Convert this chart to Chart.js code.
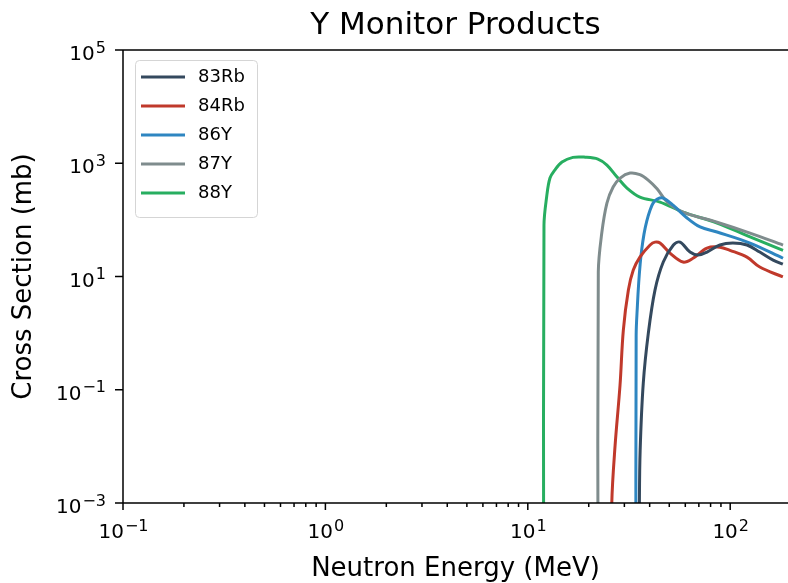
<!DOCTYPE html>
<html>
<head>
<meta charset="utf-8">
<script src="https://cdn.jsdelivr.net/npm/chart.js@4.4.0/dist/chart.umd.min.js"></script>
<style>
  body { margin: 0; background: #fff; }
</style>
</head>
<body>
<canvas id="myChart" width="788" height="583"></canvas>
<script>
// series names and colours
const seriesNames = ['83Rb', '84Rb', '86Y', '87Y', '88Y'];
const seriesColors = ['#34495e', '#c0392b', '#2e86c1', '#7f8c8d', '#27ae60'];

// neutron energy (MeV) and cross section (mb)
const energy83Rb = [35.5, 35.6, 35.9, 37.2, 39.4, 42.5, 46.7, 52.4, 56.5, 63.3, 69.3, 76.8, 89.0, 103, 121, 140, 163, 182];
const sigma83Rb  = [1e-5, 0.001, 0.0086, 0.131, 1.0, 5.75, 18, 36, 40.5, 27, 23.9, 27, 36, 38.9, 36, 27, 19.5, 16.5];

const energy84Rb = [25.8, 26.0, 27.0, 28.55, 29.65, 31.4, 33.2, 35.8, 40.2, 42.5, 45.0, 50.4, 58.5, 65.5, 76.8, 89.0, 99.7, 121, 140, 182];
const sigma84Rb  = [1e-5, 0.001, 0.0105, 0.12, 1.13, 5.75, 13, 22, 36, 40.5, 39, 25.9, 18, 21, 31.8, 33, 29, 22, 14.7, 9.8];

const energy86Y = [34.2, 34.3, 34.8, 35.3, 35.9, 36.5, 37.5, 38.7, 40.2, 41.6, 43.6, 46.6, 52.2, 61.2, 71.0, 86.1, 125.3, 182.4];
const sigma86Y  = [1e-5, 0.9, 3.1, 7.6, 16.6, 29, 56, 95, 149, 198, 233, 243, 182, 108, 75, 61, 39, 21];

const energy87Y = [22.25, 22.3, 23.2, 24.6, 26.4, 28.6, 32.0, 35.8, 39.2, 43.5, 48.7, 58.5, 86.1, 125.3, 182.4];
const sigma87Y  = [1e-5, 12, 58.5, 198, 380, 548, 671, 630, 510, 355, 210, 137, 91, 58.5, 35.9];

const energy88Y = [11.98, 12.02, 12.4, 12.87, 13.6, 14.76, 16.7, 19.2, 22.2, 24.6, 27.6, 30.9, 35.8, 45.0, 58.5, 86.1, 125.3, 182.4];
const sigma88Y  = [1e-5, 80, 260, 548, 759, 1050, 1270, 1280, 1186, 929, 570, 365, 253, 206, 137, 88, 50, 29];

// tick labels
const xTickValues = [0.1, 1, 10, 100];
const yTickValues = [1e-3, 1e-1, 1e1, 1e3, 1e5];

const energies = [energy83Rb, energy84Rb, energy86Y, energy87Y, energy88Y];
const sigmas = [sigma83Rb, sigma84Rb, sigma86Y, sigma87Y, sigma88Y];

function expText(v) {
  const e = Math.round(Math.log10(v));
  return (e < 0 ? '\u2212' : '') + Math.abs(e);
}
function isMajor(v) {
  const l = Math.log10(v);
  return Math.abs(l - Math.round(l)) < 1e-9;
}

// minor x ticks at 2..9 of each decade
const xAllTicks = [];
xTickValues.forEach(d => {
  for (let k = 1; k <= 9; k++) {
    const v = +(d * k).toPrecision(6);
    if (v <= 193) xAllTicks.push(v);
  }
});

Chart.defaults.font.family = "'DejaVu Sans', sans-serif";
Chart.defaults.color = '#000';

const BASE_FONT = "20px 'DejaVu Sans'";
const EXP_FONT = "16px 'DejaVu Sans'";

const frame = {
  id: 'frame',
  afterDraw(chart) {
    const {ctx, chartArea: a, scales: {x, y}} = chart;
    ctx.save();
    ctx.strokeStyle = '#000';
    ctx.lineWidth = 1.5;
    ctx.beginPath();
    ctx.moveTo(a.left, a.top); ctx.lineTo(a.right, a.top);
    ctx.moveTo(a.left, a.top); ctx.lineTo(a.left, a.bottom);
    ctx.lineTo(a.right, a.bottom);
    x.ticks.forEach(t => {
      const px = x.getPixelForValue(t.value);
      ctx.moveTo(px, a.bottom);
      ctx.lineTo(px, a.bottom + (isMajor(t.value) ? 7 : 4));
    });
    y.ticks.forEach(t => {
      const py = y.getPixelForValue(t.value);
      ctx.moveTo(a.left, py);
      ctx.lineTo(a.left - 8, py);
    });
    ctx.stroke();

    // tick labels as 10 with a raised exponent
    ctx.fillStyle = '#000';
    ctx.textBaseline = 'alphabetic';
    ctx.textAlign = 'left';
    x.ticks.filter(t => isMajor(t.value)).forEach(t => {
      const px = x.getPixelForValue(t.value);
      ctx.font = BASE_FONT;
      const wb = ctx.measureText('10').width;
      ctx.font = EXP_FONT;
      const we = ctx.measureText(expText(t.value)).width;
      const x0 = px - (wb + we) / 2;
      ctx.font = BASE_FONT;
      ctx.fillText('10', x0, a.bottom + 35);
      ctx.font = EXP_FONT;
      ctx.fillText(expText(t.value), x0 + wb + 1, a.bottom + 27.5);
    });
    y.ticks.forEach(t => {
      const py = y.getPixelForValue(t.value);
      ctx.font = EXP_FONT;
      const we = ctx.measureText(expText(t.value)).width;
      ctx.fillText(expText(t.value), 106 - we, py + 2.5);
      ctx.font = BASE_FONT;
      const wb = ctx.measureText('10').width;
      ctx.fillText('10', 106 - we - 1 - wb, py + 10);
    });

    // legend box in the upper left
    ctx.beginPath();
    ctx.roundRect(135.5, 60.5, 122, 157, 4);
    ctx.fillStyle = 'rgba(255,255,255,0.8)';
    ctx.fill();
    ctx.strokeStyle = '#d5d5d5';
    ctx.lineWidth = 1;
    ctx.stroke();
    ctx.font = "18px 'DejaVu Sans'";
    ctx.textBaseline = 'middle';
    chart.data.datasets.forEach((ds, i) => {
      const ry = 77 + i * 29;
      ctx.strokeStyle = ds.borderColor;
      ctx.lineWidth = 3;
      ctx.beginPath();
      ctx.moveTo(141, ry);
      ctx.lineTo(185, ry);
      ctx.stroke();
      ctx.fillStyle = '#000';
      ctx.fillText(ds.label, 198, ry);
    });
    ctx.restore();
  }
};

new Chart(document.getElementById('myChart'), {
  type: 'line',
  data: {
    datasets: seriesNames.map((name, i) => ({
      label: name,
      data: energies[i].map((e, j) => ({x: e, y: sigmas[i][j]})),
      borderColor: seriesColors[i],
      backgroundColor: seriesColors[i],
      borderWidth: 3,
      pointRadius: 0,
      tension: 0.35,
      fill: false
    }))
  },
  options: {
    responsive: false,
    animation: false,
    layout: { padding: 0 },
    plugins: {
      legend: { display: false },
      tooltip: { enabled: false },
      title: {
        display: true,
        fullSize: false,
        text: 'Y Monitor Products',
        font: { size: 31, weight: 'normal', lineHeight: 1.2 },
        padding: { top: 7, bottom: 5.8 },
        color: '#000'
      }
    },
    scales: {
      x: {
        type: 'logarithmic',
        min: 0.1,
        max: 193,
        afterBuildTicks: s => { s.ticks = xAllTicks.map(v => ({value: v})); },
        afterFit: s => { s.height = 80; },
        grid: { display: false, drawTicks: false },
        border: { display: false },
        ticks: { autoSkip: false, maxRotation: 0, callback: () => '' },
        title: {
          display: true,
          text: 'Neutron Energy (MeV)',
          font: { size: 26, lineHeight: 1.0 },
          padding: { top: 0, bottom: 1 }
        }
      },
      y: {
        type: 'logarithmic',
        min: 1e-3,
        max: 1e5,
        afterBuildTicks: s => { s.ticks = yTickValues.map(v => ({value: v})); },
        afterFit: s => { s.width = 123; },
        grid: { display: false, drawTicks: false },
        border: { display: false },
        ticks: { autoSkip: false, callback: () => '' },
        title: {
          display: true,
          text: 'Cross Section (mb)',
          font: { size: 26, lineHeight: 1.2 },
          padding: { top: 9, bottom: 0 }
        }
      }
    }
  },
  plugins: [frame]
});
</script>
</body>
</html>
